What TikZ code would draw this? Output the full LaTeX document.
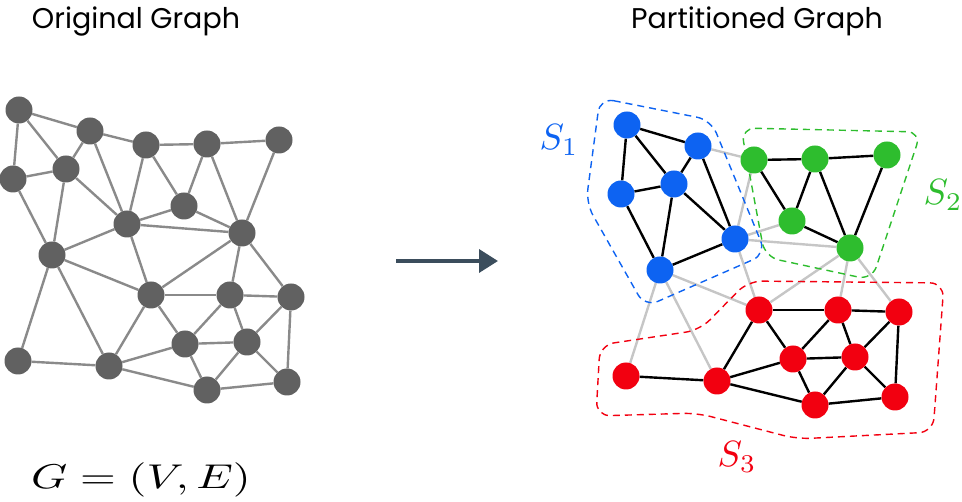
\documentclass[tikz,border=0pt]{standalone}
\usepackage{fontspec}
\setsansfont{Poppins}
\usetikzlibrary{arrows.meta}
\definecolor{nodegray}{HTML}{616161}
\definecolor{edgegray}{HTML}{8A8A8A}
\definecolor{crossgray}{HTML}{C6C6C6}
\definecolor{myblue}{HTML}{0D63F2}
\definecolor{mygreen}{HTML}{2EBD2E}
\definecolor{myred}{HTML}{F20010}
\definecolor{arrowcol}{HTML}{3B4D5C}
\pgfdeclarelayer{bg}
\pgfsetlayers{bg,main}
\tikzset{
  vtx/.style={circle, minimum size=27pt, inner sep=0pt, draw=none},
  gvtx/.style={vtx, fill=nodegray},
  cvtx/.style={vtx, fill=#1},
  gedge/.style={edgegray, line width=2.4pt},
  inedge/.style={black, line width=2.4pt},
  xedge/.style={crossgray, line width=2.4pt},
  hull/.style={draw=#1, dashed, dash pattern=on 7pt off 5pt, line width=1.4pt, rounded corners=14pt},
  title/.style={font=\sffamily\fontsize{28.5}{34}\selectfont, anchor=base},
  mathlbl/.style={text=#1, scale=3.65, anchor=base}
}
\begin{document}
\begin{tikzpicture}[x=1pt,y=-1pt]
\useasboundingbox (0,0) rectangle (962,502);

% titles
\node[title] (t1) at (136,29) {Original Graph};
\node[title] (t2) at (757,29) {Partitioned Graph};

% left graph nodes
\foreach \n/\x/\y in {1/19/110, 2/90/131, 3/146/145, 4/207/144, 5/279/140,
  6/13/179, 7/66/169, 8/184/206, 9/127/224, 10/242/233, 11/52/255,
  12/151/295, 13/230/295, 14/291/297, 15/185/344, 16/247/342,
  17/18/361, 18/109/366, 19/207/390, 20/287/382}
  \node[gvtx] (L\n) at (\x,\y) {};

% right graph nodes
\foreach \n/\x/\y/\c in {1/19/110/myblue, 2/90/131/myblue, 3/146/145/mygreen, 4/207/144/mygreen, 5/279/140/mygreen,
  6/13/179/myblue, 7/66/169/myblue, 8/184/206/mygreen, 9/127/224/myblue, 10/242/233/mygreen, 11/52/255/myblue,
  12/151/295/myred, 13/230/295/myred, 14/291/297/myred, 15/185/344/myred, 16/247/342/myred,
  17/18/361/myred, 18/109/366/myred, 19/207/390/myred, 20/287/382/myred}
  \node[cvtx=\c] (R\n) at (\x+608,\y+15) {};

\begin{pgfonlayer}{bg}
% left edges
\foreach \a/\b in {1/2,1/6,1/7,2/7,2/3,2/9,3/4,3/9,3/8,4/5,4/8,4/10,5/10,6/7,6/11,
  7/9,7/11,8/9,8/10,9/10,9/11,9/12,10/12,10/13,10/14,11/12,11/17,11/18,
  12/13,12/15,12/18,13/14,13/15,13/16,14/16,14/20,15/16,15/18,15/19,16/19,16/20,
  17/18,18/19,19/20}
  \draw[gedge] (L\a) -- (L\b);
% right cross edges
\foreach \a/\b in {2/3,3/9,8/9,9/10,9/12,10/12,10/13,10/14,11/12,11/17,11/18}
  \draw[xedge] (R\a) -- (R\b);
% right intra edges
\foreach \a/\b in {1/2,1/6,1/7,2/7,2/9,6/7,6/11,7/9,7/11,9/11,
  3/4,3/8,4/5,4/8,4/10,5/10,8/10,
  12/13,12/15,12/18,13/14,13/15,13/16,14/16,14/20,15/16,15/18,15/19,16/19,16/20,17/18,18/19,19/20}
  \draw[inedge] (R\a) -- (R\b);
% hulls
\draw[hull=myblue] (600,98) -- (711,120) -- (766,254) -- (645,307) -- (586,203) -- cycle;
\draw[hull=mygreen] (741,128) -- (921,132) -- (872,280) -- (765,257) -- cycle;
\draw[hull=myred] (748,281) -- (944,283) -- (933,432) -- (797,439) -- (697,413) -- (596,416) -- (600,345) -- (700,330) -- cycle;
\end{pgfonlayer}

% arrow
\coordinate (arrS) at (396,261);
\coordinate (arrE) at (498,261);
\draw[arrowcol, line width=3.6pt, -{Triangle[length=19pt,width=23pt]}] (arrS) -- (arrE);

% labels
\node[text=black, xscale=4.6, yscale=3.44, anchor=base] (gl) at (141,489) {$G=(V,E)$};
\node[mathlbl=myblue] (s1) at (559,150) {$S_1$};
\node[mathlbl=mygreen] (s2) at (943,205) {$S_2$};
\node[mathlbl=myred] (s3) at (737,467) {$S_3$};
\end{tikzpicture}
\end{document}
